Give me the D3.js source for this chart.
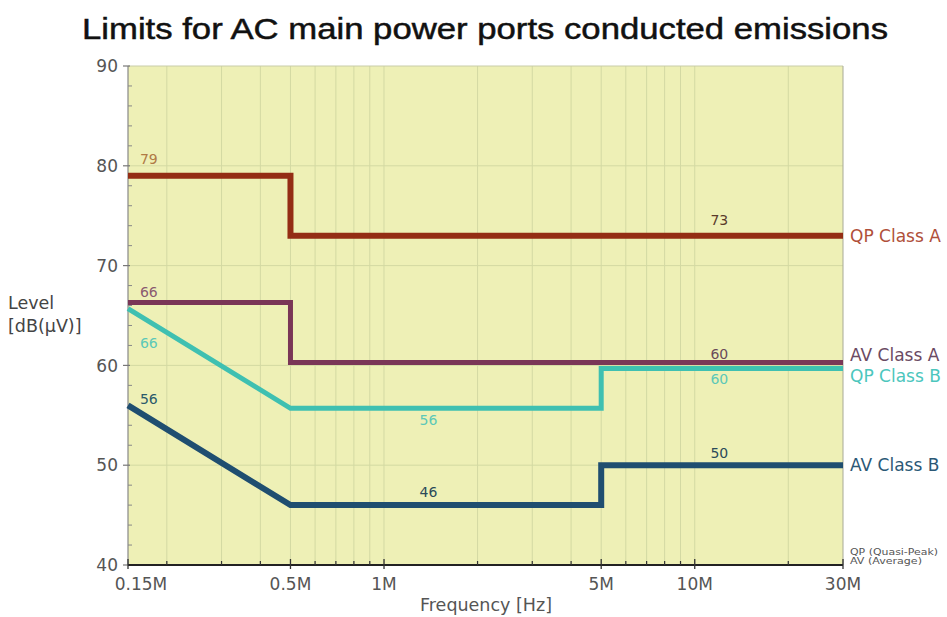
<!DOCTYPE html>
<html><head><meta charset="utf-8">
<script src="https://cdn.jsdelivr.net/npm/d3@7"></script>
<style>body{margin:0;background:#fff}svg{display:block}</style>
</head><body><svg id="c" width="947" height="617"></svg>
<script>
// ---- data ----
const seriesNames = ["QP Class A", "AV Class A", "QP Class B", "AV Class B"];
const qpA_freq = [0.15, 0.5, 0.5, 30];
const qpA_level = [79, 79, 73, 73];
const avA_freq = [0.15, 0.5, 0.5, 30];
const avA_level = [66, 66, 60, 60];
const qpB_freq = [0.15, 0.5, 5, 5, 30];
const qpB_level = [66, 56, 56, 60, 60];
const avB_freq = [0.15, 0.5, 5, 5, 30];
const avB_level = [56, 46, 46, 50, 50];
const xTickValues = [0.15, 0.5, 1, 5, 10, 30];
const xTickLabels = ["0.15M", "0.5M", "1M", "5M", "10M", "30M"];
const xMinorValues = [0.2, 0.3, 0.4, 0.6, 0.7, 0.8, 0.9, 2, 3, 4, 6, 7, 8, 9, 20];
const yTickValues = [40, 50, 60, 70, 80, 90];
const yMinorValues = [42, 44, 46, 48, 52, 54, 56, 58, 62, 64, 66, 68, 72, 74, 76, 78, 82, 84, 86, 88];
const labelSeries = [0, 0, 1, 1, 2, 2, 2, 3, 3, 3];
const labelFreq = [0.175, 12, 0.175, 12, 0.175, 1.39, 12, 0.175, 1.39, 12];
const labelLevel = [79, 73, 66, 60, 66, 56, 60, 56, 46, 50];
const labelText = ["79", "73", "66", "60", "66", "56", "60", "56", "46", "50"];
const footnotes = ["QP (Quasi-Peak)", "AV (Average)"];

// ---- styles ----
const lineColors = ["#942d14", "#7a3657", "#3fc0b1", "#1f4e70"];
const lineWidths = [6, 5, 5, 6];
const lineOffsets = [0, -3, 3, 0];
const textColors = ["#b0503a", "#6b4a63", "#4cc6bd", "#2b5876"];
const valColors = [["#b07a45", "#5a3a2a"], ["#8a5a70", "#6a4a5a"], ["#5cc8b8", "#5cc8b8"], ["#2b5a6a", "#2b4a5a"]];
const labelDy = [-12, -11, -9, -6, 42, 20, 19, -1, -8, -7];
const footLen = [88, 72];
const FONT = "'DejaVu Sans', sans-serif";

const svg = d3.select("#c");
const x = d3.scaleLog().domain([0.15, 30]).range([128, 843]);
const y = d3.scaleLinear().domain([40, 90]).range([565, 66]);

// plot background
svg.append("rect").attr("x", x(0.15)).attr("y", y(90))
  .attr("width", x(30) - x(0.15)).attr("height", y(40) - y(90)).attr("fill", "#eef0b6");

// grid
const g = svg.append("g");
g.selectAll(".vg").data(xMinorValues.concat([0.5, 1, 5, 10])).join("line")
  .attr("x1", d => x(d)).attr("x2", d => x(d)).attr("y1", y(90)).attr("y2", y(40))
  .attr("stroke", "#d3d9a3").attr("stroke-width", 1);
g.selectAll(".hg").data([50, 60, 70, 80]).join("line")
  .attr("x1", x(0.15)).attr("x2", x(30)).attr("y1", d => y(d)).attr("y2", d => y(d))
  .attr("stroke", "#d3d9a3").attr("stroke-width", 1);
// frame top/right
svg.append("line").attr("x1", x(0.15)).attr("x2", x(30)).attr("y1", y(90)).attr("y2", y(90)).attr("stroke", "#c8cca8");
svg.append("line").attr("x1", x(30)).attr("x2", x(30)).attr("y1", y(90)).attr("y2", y(40)).attr("stroke", "#a8aa98");

// y axis
svg.append("line").attr("x1", x(0.15)).attr("x2", x(0.15)).attr("y1", y(90)).attr("y2", y(40)).attr("stroke", "#888").attr("stroke-width", 1.2);
svg.selectAll(".ymaj").data(yTickValues).join("line")
  .attr("x1", x(0.15) - 5).attr("x2", x(0.15) + 2).attr("y1", d => y(d)).attr("y2", d => y(d))
  .attr("stroke", "#777").attr("stroke-width", 1.2);
svg.selectAll(".ymin").data(yMinorValues).join("line")
  .attr("x1", x(0.15)).attr("x2", x(0.15) + 4).attr("y1", d => y(d)).attr("y2", d => y(d))
  .attr("stroke", "#888").attr("stroke-width", 1);
svg.selectAll(".ylab").data(yTickValues).join("text")
  .attr("x", x(0.15) - 10).attr("y", d => y(d)).attr("dy", "0.36em")
  .attr("text-anchor", "end").attr("font-family", FONT).attr("font-size", 17).attr("fill", "#555")
  .text(d => d);

// x axis
svg.append("line").attr("x1", x(0.15)).attr("x2", x(30)).attr("y1", y(40)).attr("y2", y(40)).attr("stroke", "#222").attr("stroke-width", 2);
svg.selectAll(".xmaj").data(xTickValues).join("line")
  .attr("x1", d => x(d)).attr("x2", d => x(d)).attr("y1", y(40) - 6).attr("y2", y(40) + 4)
  .attr("stroke", "#333").attr("stroke-width", 1.3);
svg.selectAll(".xmin").data(xMinorValues).join("line")
  .attr("x1", d => x(d)).attr("x2", d => x(d)).attr("y1", y(40) - 4).attr("y2", y(40))
  .attr("stroke", "#333").attr("stroke-width", 1.2);
svg.selectAll(".xlab").data(xTickValues).join("text")
  .attr("x", (d, i) => x(d) + (i === 0 ? 13 : 0)).attr("y", 590)
  .attr("text-anchor", "middle").attr("font-family", FONT).attr("font-size", 17).attr("fill", "#555")
  .text((d, i) => xTickLabels[i]);

// axis titles
svg.append("text").attr("x", 486).attr("y", 611).attr("text-anchor", "middle")
  .attr("font-family", FONT).attr("font-size", 17.5).attr("fill", "#555").text("Frequency [Hz]");
svg.append("text").attr("x", 8).attr("y", 309).attr("font-family", FONT).attr("font-size", 17.5).attr("fill", "#444").text("Level");
svg.append("text").attr("x", 8).attr("y", 332).attr("font-family", FONT).attr("font-size", 17.5).attr("fill", "#444").text("[dB(\u03BCV)]");

// title
svg.append("text").attr("x", 485).attr("y", 39).attr("text-anchor", "middle")
  .attr("font-family", "'Liberation Sans', Arial, sans-serif").attr("font-size", 30).attr("fill", "#111")
  .attr("stroke", "#111").attr("stroke-width", 0.5)
  .attr("textLength", 806).attr("lengthAdjust", "spacingAndGlyphs")
  .text("Limits for AC main power ports conducted emissions");

// series lines
const allFreq = [qpA_freq, avA_freq, qpB_freq, avB_freq];
const allLevel = [qpA_level, avA_level, qpB_level, avB_level];
seriesNames.forEach((name, i) => {
  const pts = allFreq[i].map((f, j) => [f, allLevel[i][j]]);
  const line = d3.line().x(d => x(d[0])).y(d => y(d[1]) + lineOffsets[i]);
  svg.append("path").attr("d", line(pts)).attr("fill", "none")
    .attr("stroke", lineColors[i]).attr("stroke-width", lineWidths[i])
    .attr("stroke-linejoin", "miter").attr("stroke-linecap", "butt");
  const last = pts[pts.length - 1];
  svg.append("text").attr("x", x(30) + 7).attr("y", y(last[1]) + lineOffsets[i] * 3.5).attr("dy", "0.36em")
    .attr("font-family", FONT).attr("font-size", 17).attr("fill", textColors[i]).text(name);
});

// value labels
labelText.forEach((t, k) => {
  const s = labelSeries[k];
  const isLeft = labelFreq[k] < 0.2;
  svg.append("text").attr("x", x(labelFreq[k])).attr("y", y(labelLevel[k]) + labelDy[k])
    .attr("text-anchor", "middle").attr("font-family", FONT).attr("font-size", 14)
    .attr("fill", valColors[s][isLeft ? 0 : 1]).text(t);
});

// footnote
footnotes.forEach((t, k) => {
  svg.append("text").attr("x", 850).attr("y", 555 + k * 8.5).attr("font-family", FONT)
    .attr("font-size", 8).attr("fill", "#555")
    .attr("textLength", footLen[k]).attr("lengthAdjust", "spacingAndGlyphs").text(t);
});
</script></body></html>
